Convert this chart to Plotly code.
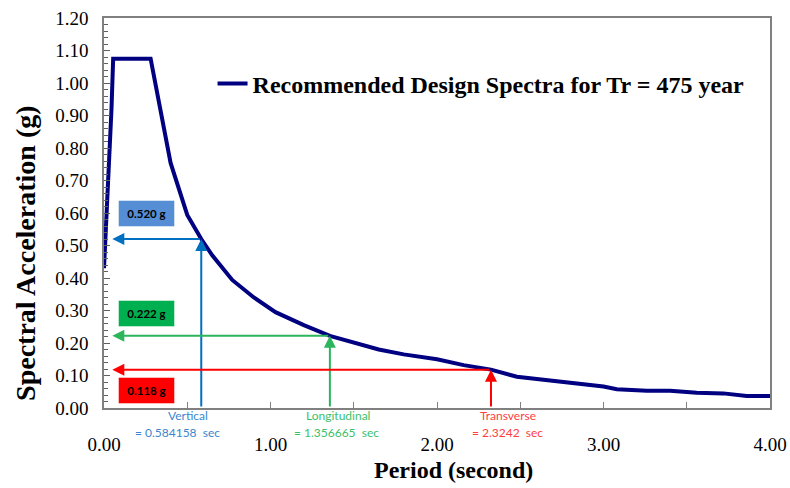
import plotly.graph_objects as go

# Recommended design spectrum, Tr = 475 year
period = [0.0, 0.015, 0.03, 0.045, 0.055, 0.28, 0.40, 0.45, 0.50, 0.584158, 0.65, 0.77,
          0.90, 1.03, 1.20, 1.356665, 1.50, 1.65, 1.80, 2.00, 2.16, 2.3242, 2.48, 2.65,
          2.80, 3.00, 3.08, 3.26, 3.40, 3.56, 3.72, 3.86, 4.00]
sa = [0.43, 0.60, 0.72, 0.92, 1.075, 1.075, 0.754, 0.67, 0.594, 0.520, 0.47, 0.394,
      0.34, 0.295, 0.255, 0.222, 0.20, 0.18, 0.165, 0.15, 0.132, 0.118, 0.096, 0.087,
      0.078, 0.066, 0.058, 0.053, 0.053, 0.047, 0.045, 0.037, 0.037]

# Design periods and spectral accelerations for the three directions
directions = ["Vertical", "Longitudinal", "Transverse"]
dir_period = [0.584158, 1.356665, 2.3242]
dir_period_text = ["0.584158", "1.356665", "2.3242"]
dir_sa = [0.520, 0.222, 0.118]

x_ticks = [0, 1, 2, 3, 4]

# styling of the three direction markers
arrow_colors = ["#0070C0", "#2DB55D", "#FF0000"]
text_colors = ["#3A86CF", "#3DBF6A", "#FF4040"]
box_colors = ["#558ED5", "#00B050", "#FF0000"]
box_y = [0.598, 0.291, 0.055]          # centre of each value box (g)
name_shift = [-13, 8, 17]               # px offset of the direction name
period_shift = [-24, 7, 17]             # px offset of the period text

fig = go.Figure()
fig.add_trace(go.Scatter(
    x=period, y=sa, mode="lines",
    name="<b>Recommended Design Spectra for Tr = 475 year</b>",
    line=dict(color="#000080", width=4),
))

annotations = []
for i, (name, tp, tpt, s) in enumerate(zip(directions, dir_period, dir_period_text, dir_sa)):
    ac, tc = arrow_colors[i], text_colors[i]
    # horizontal arrow to the acceleration axis
    annotations.append(dict(x=0.05, y=s, ax=tp, ay=s, xref="x", yref="y",
                            axref="x", ayref="y", text="", showarrow=True,
                            arrowhead=2, arrowsize=1.2, arrowwidth=2, arrowcolor=ac))
    # vertical arrow from the period axis up to the spectrum
    annotations.append(dict(x=tp, y=s, ax=tp, ay=0, xref="x", yref="y",
                            axref="x", ayref="y", text="", showarrow=True,
                            arrowhead=2, arrowsize=1.2, arrowwidth=2, arrowcolor=ac))
    # value box
    annotations.append(dict(x=0.253, y=box_y[i], xref="x", yref="y", showarrow=False,
                            text="<b>%.3f g</b>" % s, bgcolor=box_colors[i],
                            bordercolor="rgba(255,255,255,0.45)", borderwidth=1,
                            width=55, height=25, borderpad=0,
                            font=dict(family="Lato", size=11.5, color="black")))
    # direction name and period under the axis
    annotations.append(dict(x=tp, y=-0.018, xref="x", yref="paper", showarrow=False,
                            text=name, xanchor="center", yanchor="middle",
                            xshift=name_shift[i],
                            font=dict(family="Lato", size=12, color=tc)))
    annotations.append(dict(x=tp, y=-0.064, xref="x", yref="paper", showarrow=False,
                            text="= %s  sec" % tpt, xanchor="center", yanchor="middle",
                            xshift=period_shift[i],
                            font=dict(family="Lato", size=12, color=tc)))

# axis titles
annotations.append(dict(x=-0.119, y=0.397, xref="paper", yref="paper", showarrow=False,
                        text="<b>Spectral Acceleration (g)</b>", textangle=-90,
                        xanchor="center", yanchor="middle",
                        font=dict(family="Liberation Serif", size=28, color="black")))
annotations.append(dict(x=0.5255, y=-0.159, xref="paper", yref="paper", showarrow=False,
                        text="<b>Period (second)</b>",
                        xanchor="center", yanchor="middle",
                        font=dict(family="Liberation Serif", size=24, color="black")))

fig.update_layout(
    width=790, height=488, autosize=False,
    margin=dict(l=104, r=20, t=18, b=80),
    plot_bgcolor="white", paper_bgcolor="white",
    showlegend=True,
    legend=dict(x=0.163, y=0.831, xanchor="left", yanchor="middle",
                bgcolor="rgba(0,0,0,0)",
                font=dict(family="Liberation Serif", size=24, color="black")),
    annotations=annotations,
    xaxis=dict(
        range=[0, 4], tickvals=x_ticks, tickformat=".2f", automargin=False,
        ticks="inside", ticklen=6, tickcolor="#808080",
        minor=dict(dtick=0.5, ticks="inside", ticklen=6, tickcolor="#808080"),
        showline=True, linecolor="#808080", linewidth=1.5, mirror=True,
        showgrid=False, zeroline=False, ticklabelstandoff=18,
        tickfont=dict(family="Liberation Serif", size=19, color="black"),
    ),
    yaxis=dict(
        range=[0, 1.2], dtick=0.1, tickformat=".2f", automargin=False,
        ticks="inside", ticklen=6, tickcolor="#606060",
        minor=dict(dtick=0.02, ticks="inside", ticklen=4, tickcolor="#606060"),
        showline=True, linecolor="#808080", linewidth=1.5, mirror=True,
        showgrid=False, zeroline=False, ticklabelstandoff=10,
        tickfont=dict(family="Liberation Serif", size=19, color="black"),
    ),
)

fig.write_html("out.html")
